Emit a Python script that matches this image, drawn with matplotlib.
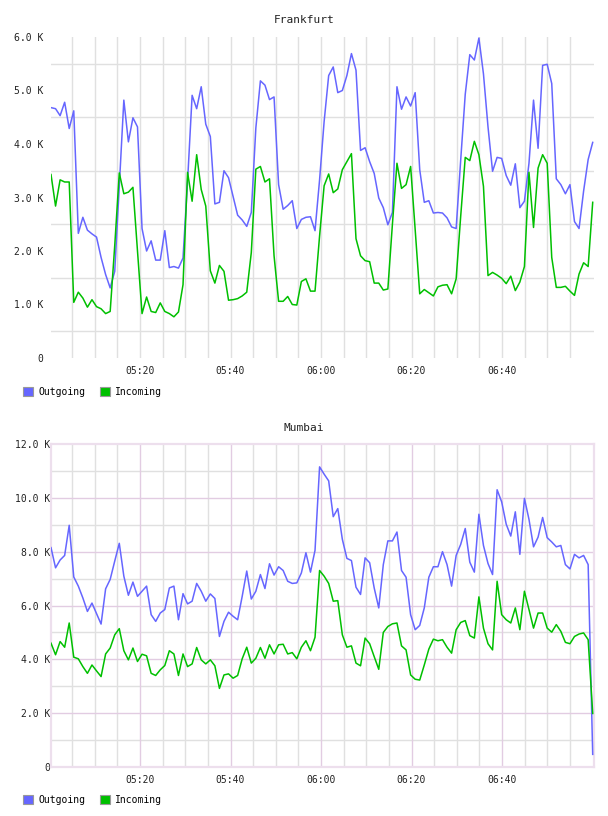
import numpy as np
import matplotlib
matplotlib.use('Agg')
import matplotlib.pyplot as plt
from matplotlib.patches import Patch
from matplotlib.ticker import FuncFormatter

plt.rcParams['font.family'] = ['DejaVu Sans Mono']

# one sample per minute, starting a little after 05:00 (minutes since 05:00)
n_samples = 120
start_min = 0.33
step_min = 1.006
minutes = start_min + step_min * np.arange(n_samples)

# values in K
fra_out = [4.68, 4.66, 4.53, 4.78, 4.29, 4.62, 2.33, 2.63, 2.39, 2.32,
           2.26, 1.88, 1.56, 1.31, 1.62, 3.21, 4.82, 4.04, 4.49, 4.32,
           2.42, 2.00, 2.19, 1.83, 1.83, 2.38, 1.69, 1.71, 1.68, 1.87,
           3.30, 4.91, 4.66, 5.07, 4.37, 4.14, 2.88, 2.91, 3.50, 3.37,
           3.02, 2.67, 2.58, 2.46, 2.72, 4.30, 5.18, 5.10, 4.83, 4.88,
           3.24, 2.78, 2.85, 2.94, 2.42, 2.59, 2.63, 2.64, 2.38, 3.33,
           4.42, 5.28, 5.44, 4.96, 5.00, 5.28, 5.69, 5.38, 3.88, 3.93,
           3.67, 3.45, 2.99, 2.81, 2.49, 2.72, 5.07, 4.65, 4.88, 4.71,
           4.96, 3.52, 2.91, 2.94, 2.71, 2.72, 2.71, 2.62, 2.45, 2.42,
           3.70, 4.93, 5.67, 5.57, 5.98, 5.31, 4.32, 3.49, 3.75, 3.73,
           3.41, 3.23, 3.63, 2.81, 2.93, 3.64, 4.82, 3.92, 5.47, 5.49,
           5.13, 3.35, 3.24, 3.07, 3.24, 2.55, 2.42, 3.12, 3.71, 4.03]
fra_in = [3.43, 2.84, 3.33, 3.29, 3.29, 1.04, 1.23, 1.12, 0.95, 1.09,
          0.96, 0.92, 0.83, 0.87, 2.10, 3.46, 3.07, 3.10, 3.19, 2.00,
          0.83, 1.14, 0.87, 0.85, 1.03, 0.87, 0.83, 0.77, 0.86, 1.37,
          3.47, 2.93, 3.80, 3.15, 2.84, 1.63, 1.40, 1.73, 1.62, 1.08,
          1.09, 1.11, 1.16, 1.23, 1.97, 3.53, 3.58, 3.29, 3.35, 1.91,
          1.06, 1.06, 1.15, 1.00, 0.99, 1.43, 1.48, 1.25, 1.25, 2.28,
          3.22, 3.44, 3.09, 3.16, 3.52, 3.67, 3.82, 2.23, 1.91, 1.82,
          1.80, 1.40, 1.40, 1.27, 1.29, 2.50, 3.64, 3.17, 3.24, 3.58,
          2.40, 1.20, 1.28, 1.22, 1.16, 1.33, 1.36, 1.37, 1.20, 1.48,
          2.65, 3.75, 3.69, 4.05, 3.80, 3.21, 1.54, 1.60, 1.55, 1.49,
          1.39, 1.53, 1.26, 1.42, 1.71, 3.47, 2.44, 3.55, 3.80, 3.64,
          1.88, 1.32, 1.32, 1.34, 1.25, 1.17, 1.57, 1.78, 1.71, 2.91]
mum_out = [8.15, 7.40, 7.69, 7.86, 8.98, 7.06, 6.72, 6.28, 5.78, 6.09,
           5.70, 5.31, 6.62, 6.97, 7.65, 8.31, 7.09, 6.38, 6.87, 6.34,
           6.53, 6.72, 5.66, 5.41, 5.72, 5.85, 6.65, 6.72, 5.47, 6.44,
           6.06, 6.16, 6.82, 6.53, 6.16, 6.43, 6.26, 4.85, 5.41, 5.75,
           5.60, 5.47, 6.34, 7.28, 6.24, 6.53, 7.15, 6.63, 7.55, 7.13,
           7.44, 7.30, 6.90, 6.82, 6.84, 7.21, 7.96, 7.24, 8.05, 11.15,
           10.88, 10.63, 9.30, 9.60, 8.46, 7.75, 7.67, 6.68, 6.41, 7.77,
           7.59, 6.65, 5.91, 7.52, 8.40, 8.40, 8.73, 7.30, 7.05, 5.66,
           5.10, 5.26, 5.91, 7.05, 7.44, 7.44, 8.00, 7.52, 6.72, 7.86,
           8.27, 8.86, 7.61, 7.24, 9.39, 8.23, 7.56, 7.15, 10.30, 9.85,
           9.02, 8.58, 9.48, 7.90, 9.98, 9.20, 8.18, 8.54, 9.27, 8.52,
           8.36, 8.18, 8.23, 7.52, 7.36, 7.90, 7.77, 7.86, 7.52, 0.47]
mum_in = [4.60, 4.17, 4.66, 4.45, 5.35, 4.08, 4.02, 3.73, 3.48, 3.79,
          3.57, 3.36, 4.20, 4.42, 4.91, 5.14, 4.32, 3.98, 4.42, 3.92,
          4.19, 4.13, 3.48, 3.40, 3.61, 3.77, 4.32, 4.20, 3.40, 4.20,
          3.73, 3.83, 4.44, 3.98, 3.83, 3.98, 3.76, 2.92, 3.42, 3.46,
          3.30, 3.40, 4.02, 4.45, 3.86, 4.04, 4.44, 4.04, 4.54, 4.20,
          4.54, 4.56, 4.20, 4.25, 4.02, 4.45, 4.69, 4.32, 4.82, 7.30,
          7.09, 6.82, 6.16, 6.18, 4.91, 4.45, 4.50, 3.86, 3.76, 4.79,
          4.58, 4.10, 3.63, 5.00, 5.22, 5.32, 5.35, 4.50, 4.35, 3.42,
          3.26, 3.23, 3.79, 4.38, 4.75, 4.69, 4.73, 4.45, 4.23, 5.10,
          5.37, 5.44, 4.88, 4.79, 6.32, 5.16, 4.58, 4.35, 6.90, 5.66,
          5.47, 5.35, 5.91, 5.10, 6.53, 5.85, 5.16, 5.72, 5.72, 5.16,
          5.01, 5.29, 5.04, 4.63, 4.58, 4.85, 4.94, 4.98, 4.73, 1.99]

time_ticks = [20, 40, 60, 80, 100]
time_labels = ['05:20', '05:40', '06:00', '06:20', '06:40']
minor_times = [m for m in range(5, 120, 5) if m not in time_ticks]

blue = '#6666ff'
green = '#00c000'
gray = '#e0e0e0'
pink = '#e2cce2'
W, H = 608, 816


def kfmt(v, pos):
    return '0' if v == 0 else '%.1f K' % v


fig = plt.figure(figsize=(W / 100, H / 100), dpi=100)
ax1 = fig.add_axes([51 / W, 1 - 358 / H, 543 / W, 321 / H])
ax2 = fig.add_axes([51 / W, 1 - 767 / H, 543 / W, 323 / H])

# Frankfurt: light gray grid only, no frame
ax1.set_xlim(start_min, 120.33)
ax1.set_ylim(0, 6)
for m in time_ticks + minor_times:
    ax1.axvline(m, color=gray, lw=1, zorder=0)
for v in np.arange(0.5, 6, 1.0):
    ax1.axhline(v, color=gray, lw=1, zorder=0)
ax1.plot(minutes, fra_out, color=blue, lw=1.1, zorder=3)
ax1.plot(minutes, fra_in, color=green, lw=1.1, zorder=3)
ax1.set_yticks(range(0, 7))
ax1.yaxis.set_major_formatter(FuncFormatter(kfmt))
ax1.tick_params(axis='y', length=0, pad=5.8, labelsize=7, labelcolor='#222222')
for s in ax1.spines.values():
    s.set_visible(False)

# Mumbai: pink major grid + frame, gray minor grid
ax2.set_xlim(start_min, 120.33)
ax2.set_ylim(0, 12)
for m in minor_times:
    ax2.axvline(m, color=gray, lw=1, zorder=0)
for v in range(1, 12, 2):
    ax2.axhline(v, color=gray, lw=1, zorder=0)
for m in time_ticks:
    ax2.axvline(m, color=pink, lw=1, zorder=1)
for v in range(2, 12, 2):
    ax2.axhline(v, color=pink, lw=1, zorder=1)
ax2.plot(minutes, mum_out, color=blue, lw=1.1, zorder=3)
ax2.plot(minutes, mum_in, color=green, lw=1.1, zorder=3)
ax2.set_yticks(range(0, 13, 2))
ax2.yaxis.set_major_formatter(FuncFormatter(kfmt))
ax2.tick_params(axis='y', length=0, pad=0.8, labelsize=7, labelcolor='#222222')
for s in ax2.spines.values():
    s.set_color('#eddfed')
    s.set_linewidth(1.6)

for ax in (ax1, ax2):
    ax.set_facecolor('white')
    ax.set_xticks(time_ticks)
    ax.set_xticklabels(time_labels)
    ax.tick_params(axis='x', length=0, pad=6, labelsize=7, labelcolor='#222222')

fig.text(304 / W, 1 - 20 / H, 'Frankfurt', ha='center', va='center',
         fontsize=8, color='#222222')
fig.text(304 / W, 1 - 428 / H, 'Mumbai', ha='center', va='center',
         fontsize=8, color='#222222')

handles = [Patch(facecolor=blue, edgecolor='#999999', lw=0.8),
           Patch(facecolor=green, edgecolor='#999999', lw=0.8)]
for y in (392, 800):
    fig.legend(handles, ['Outgoing', 'Incoming'], loc='center left',
               bbox_to_anchor=(23 / W, 1 - y / H), ncol=2, frameon=False,
               fontsize=7, handlelength=1.05, handleheight=1.05,
               handletextpad=0.5, columnspacing=1.5, borderpad=0,
               borderaxespad=0)

fig.savefig('out.png', dpi=100)
